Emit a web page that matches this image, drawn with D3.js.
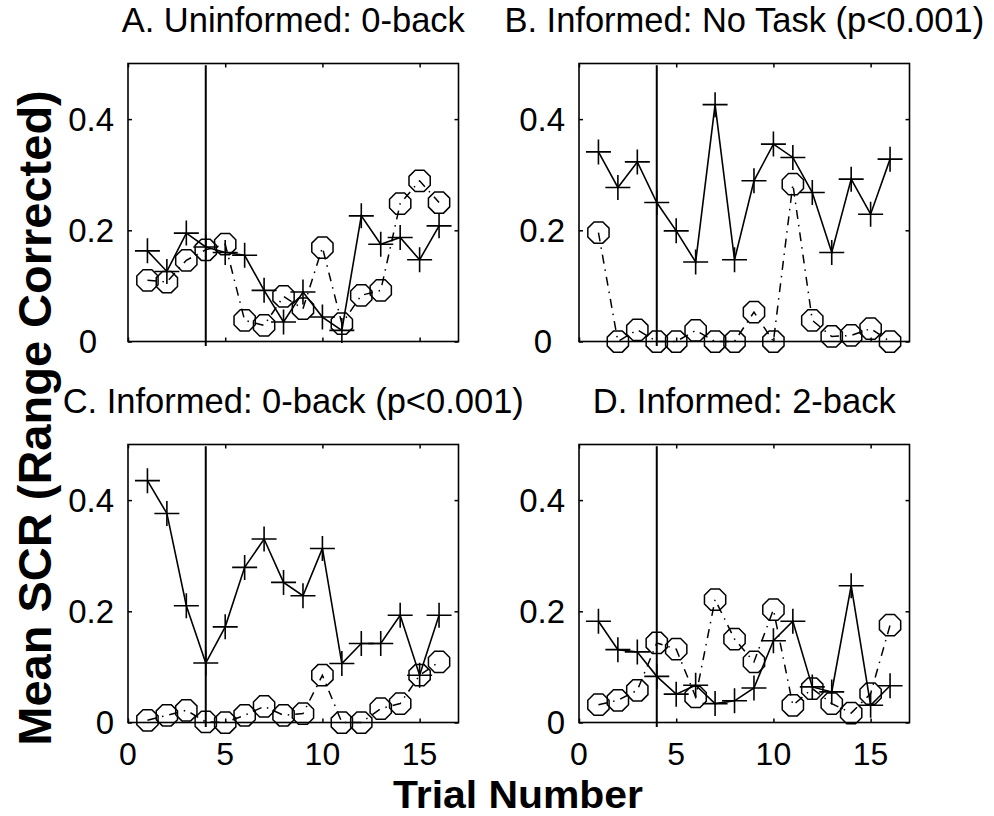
<!DOCTYPE html>
<html>
<head>
<meta charset="utf-8">
<script src="https://cdn.jsdelivr.net/npm/d3@7"></script>
<style>
  body { margin: 0; background: #fff; }
  svg { display: block; font-family: "Liberation Sans", Arial, sans-serif; }
</style>
</head>
<body>
<svg id="chart" width="994" height="816"></svg>
<script>
// ---- data ----
const trials = [1, 2, 3, 4, 5, 6, 7, 8, 9, 10, 11, 12, 13, 14, 15, 16];

const panelTitles = [
  'A. Uninformed: 0-back',
  'B. Informed: No Task (p<0.001)',
  'C. Informed: 0-back (p<0.001)',
  'D. Informed: 2-back'
];

// "+" series (solid line)
const plusA = [0.163, 0.126, 0.195, 0.170, 0.160, 0.155, 0.092, 0.035, 0.089, 0.044, 0.020, 0.226, 0.175, 0.187, 0.147, 0.208];
const plusB = [0.341, 0.277, 0.323, 0.250, 0.199, 0.143, 0.426, 0.147, 0.289, 0.355, 0.331, 0.268, 0.160, 0.292, 0.229, 0.328];
const plusC = [0.435, 0.376, 0.210, 0.107, 0.172, 0.279, 0.330, 0.252, 0.228, 0.313, 0.106, 0.142, 0.142, 0.193, 0.085, 0.193];
const plusD = [0.182, 0.131, 0.127, 0.083, 0.051, 0.067, 0.034, 0.039, 0.062, 0.147, 0.182, 0.064, 0.055, 0.246, 0.031, 0.066];

// "o" series (dash-dot line)
const circleA = [0.110, 0.107, 0.146, 0.165, 0.175, 0.038, 0.029, 0.081, 0.059, 0.169, 0.032, 0.083, 0.092, 0.248, 0.289, 0.250];
const circleB = [0.196, 0.000, 0.021, 0.000, 0.000, 0.020, 0.000, 0.000, 0.053, 0.000, 0.283, 0.038, 0.009, 0.011, 0.023, 0.000];
const circleC = [0.004, 0.013, 0.022, 0.001, 0.000, 0.013, 0.029, 0.013, 0.016, 0.085, 0.000, 0.000, 0.025, 0.034, 0.085, 0.109];
const circleD = [0.032, 0.040, 0.058, 0.143, 0.132, 0.046, 0.221, 0.150, 0.109, 0.203, 0.031, 0.061, 0.034, 0.017, 0.052, 0.175];

const markerTrial = 4;
const xTicks = [0, 5, 10, 15];
const yTicks = [0, 0.2, 0.4];
const yTickLabels = ['0', '0.2', '0.4'];

const yLabel = 'Mean SCR (Range Corrected)';
const xLabel = 'Trial Number';

// ---- layout ----
const panels = [
  {title: panelTitles[0], plus: plusA, circle: circleA, left: 128, top: 63.5, showX: false, zeroShift: -40},
  {title: panelTitles[1], plus: plusB, circle: circleB, left: 579, top: 63.5, showX: false, zeroShift: -36},
  {title: panelTitles[2], plus: plusC, circle: circleC, left: 128, top: 444.5, showX: true, zeroShift: null},
  {title: panelTitles[3], plus: plusD, circle: circleD, left: 579, top: 444.5, showX: true, zeroShift: null}
];
const panelWidth = 330.5;
const panelHeight = 278;

const svg = d3.select('#chart');

const octagonPath = (r) => {
  const pts = d3.range(8).map(i => {
    const a = Math.PI / 8 + i * Math.PI / 4;
    return [r * Math.cos(a), r * Math.sin(a)];
  });
  return d3.line()(pts) + 'Z';
};

const plusPath = (s) => `M${-s},0H${s}M0,${-s}V${s}`;

const drawPanel = ({panel}) => {
  const x = d3.scaleLinear().domain([0, 17]).range([0, panelWidth]);
  const y = d3.scaleLinear().domain([0, 0.5]).range([panelHeight, 0]);

  const g = svg.append('g')
    .attr('transform', `translate(${panel.left}, ${panel.top})`);

  // inward ticks, all four sides
  g.append('g')
    .call(d3.axisBottom(x).tickValues(xTicks).tickSizeInner(-4).tickSizeOuter(0).tickFormat(''))
    .attr('transform', `translate(0, ${panelHeight})`);
  g.append('g')
    .call(d3.axisTop(x).tickValues(xTicks).tickSizeInner(-4).tickSizeOuter(0).tickFormat(''));
  g.append('g')
    .call(d3.axisLeft(y).tickValues(yTicks).tickSizeInner(-4).tickSizeOuter(0).tickFormat(''));
  g.append('g')
    .call(d3.axisRight(y).tickValues(yTicks).tickSizeInner(-4).tickSizeOuter(0).tickFormat(''))
    .attr('transform', `translate(${panelWidth}, 0)`);
  g.selectAll('.domain').remove();
  g.selectAll('.tick line').attr('stroke', '#000').attr('stroke-width', 1.5);

  // frame
  g.append('rect')
    .attr('width', panelWidth)
    .attr('height', panelHeight)
    .attr('fill', 'none')
    .attr('stroke', '#000')
    .attr('stroke-width', 1.6);

  // tick labels (the top row draws its "0" a little left, as in the figure)
  g.selectAll('text.ytick')
    .data(yTicks)
    .enter()
    .append('text')
    .attr('class', 'ytick')
    .attr('x', d => (d === 0 && panel.zeroShift !== null) ? panel.zeroShift : -14)
    .attr('y', d => y(d))
    .attr('dy', '0.35em')
    .attr('text-anchor', d => (d === 0 && panel.zeroShift !== null) ? 'middle' : 'end')
    .attr('font-size', 33)
    .text((d, i) => yTickLabels[i]);

  if (panel.showX) {
    g.selectAll('text.xtick')
      .data(xTicks)
      .enter()
      .append('text')
      .attr('class', 'xtick')
      .attr('x', d => x(d))
      .attr('y', panelHeight + 42.5)
      .attr('text-anchor', 'middle')
      .attr('font-size', 32)
      .text(d => d);
  }

  // title
  g.append('text')
    .attr('x', panelWidth / 2)
    .attr('y', -32)
    .attr('text-anchor', 'middle')
    .attr('font-size', 34.5)
    .text(panel.title);

  // vertical marker at trial 4
  g.append('line')
    .attr('x1', x(markerTrial))
    .attr('x2', x(markerTrial))
    .attr('y1', y(0.497))
    .attr('y2', y(-0.008))
    .attr('stroke', '#000')
    .attr('stroke-width', 2);

  const line = d3.line()
    .x((d, i) => x(trials[i]))
    .y(d => y(d));

  // dash-dot series
  g.append('path')
    .datum(panel.circle)
    .attr('d', line)
    .attr('fill', 'none')
    .attr('stroke', '#000')
    .attr('stroke-width', 1.5)
    .attr('stroke-dasharray', '9,6,1.5,6');

  g.selectAll('path.circle')
    .data(panel.circle)
    .enter()
    .append('path')
    .attr('class', 'circle')
    .attr('d', octagonPath(11.5))
    .attr('transform', (d, i) => `translate(${x(trials[i])}, ${y(d)})`)
    .attr('fill', 'none')
    .attr('stroke', '#000')
    .attr('stroke-width', 1.5);

  // solid series
  g.append('path')
    .datum(panel.plus)
    .attr('d', line)
    .attr('fill', 'none')
    .attr('stroke', '#000')
    .attr('stroke-width', 1.6);

  g.selectAll('path.plus')
    .data(panel.plus)
    .enter()
    .append('path')
    .attr('class', 'plus')
    .attr('d', plusPath(12.5))
    .attr('transform', (d, i) => `translate(${x(trials[i])}, ${y(d)})`)
    .attr('fill', 'none')
    .attr('stroke', '#000')
    .attr('stroke-width', 1.6);
};

panels.forEach(panel => drawPanel({panel}));

// shared axis labels
svg.append('text')
  .attr('transform', 'translate(51, 418) rotate(-90)')
  .attr('text-anchor', 'middle')
  .attr('font-size', 47)
  .attr('font-weight', 'bold')
  .text(yLabel);

svg.append('text')
  .attr('x', 518)
  .attr('y', 807.5)
  .attr('text-anchor', 'middle')
  .attr('font-size', 39)
  .attr('font-weight', 'bold')
  .attr('textLength', 250)
  .attr('lengthAdjust', 'spacingAndGlyphs')
  .text(xLabel);
</script>
</body>
</html>
